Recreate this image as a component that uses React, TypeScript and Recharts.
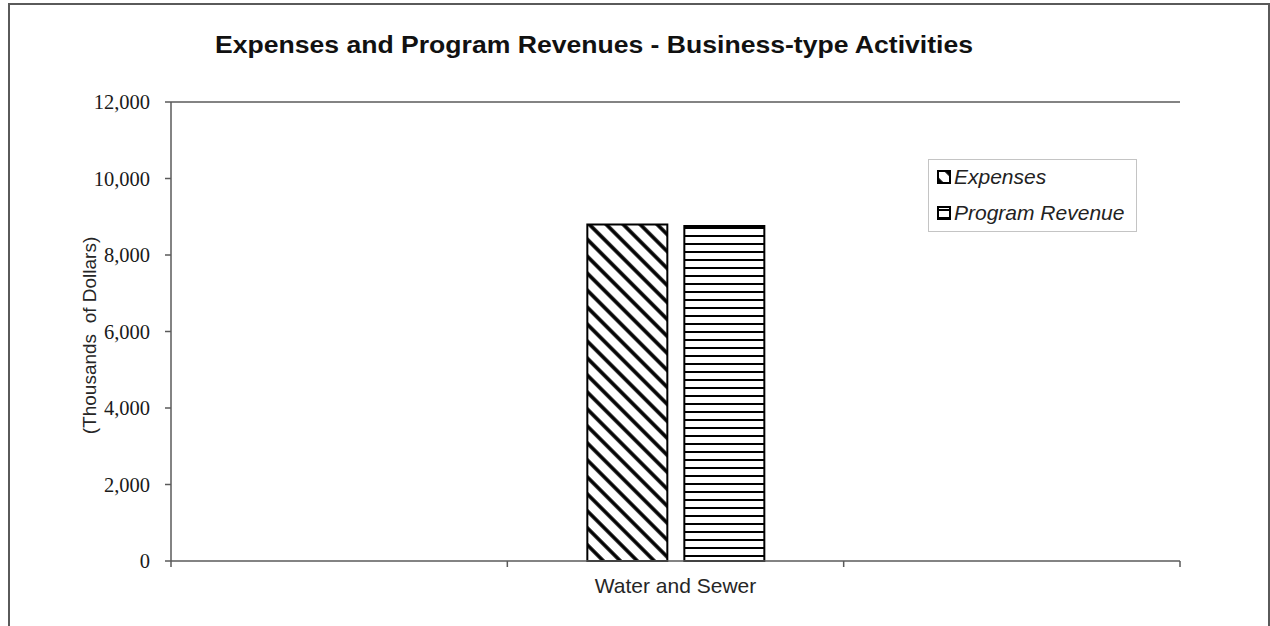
import { BarChart, Bar, XAxis, YAxis, ReferenceLine } from "recharts";

const categories = ["", "Water and Sewer", ""];
const expenses = [null, 8800, null];
const programRevenue = [null, 8760, null];
const yTicks = [0, 2000, 4000, 6000, 8000, 10000, 12000];

const AXIS = "#5a5a5a";
const INK = "#1a1a1a";

const data = categories.map((name, i) => ({
  name,
  expenses: expenses[i],
  revenue: programRevenue[i],
}));

function Patterns() {
  return (
    <svg width={0} height={0} style={{ position: "absolute" }}>
      <defs>
        <pattern
          id="hatch-diag"
          patternUnits="userSpaceOnUse"
          width={12}
          height={12}
          patternTransform="rotate(45)"
        >
          <rect width={12} height={12} fill="#fff" />
          <line x1={0} y1={6} x2={12} y2={6} stroke="#000" strokeWidth={3.6} />
        </pattern>
        <pattern id="hatch-horiz" patternUnits="userSpaceOnUse" width={8} height={8}>
          <rect width={8} height={8} fill="#fff" />
          <line x1={0} y1={4} x2={8} y2={4} stroke="#000" strokeWidth={2} />
        </pattern>
      </defs>
    </svg>
  );
}

function CategoryTick(props: any) {
  const { x, y, payload, index } = props;
  const half = payload?.offset ?? 0;
  const axisY = y - 8;
  return (
    <g>
      <line x1={x - half} y1={axisY} x2={x - half} y2={axisY + 6} stroke={AXIS} strokeWidth={1.5} />
      {index === categories.length - 1 && (
        <line x1={x + half} y1={axisY} x2={x + half} y2={axisY + 6} stroke={AXIS} strokeWidth={1.5} />
      )}
      <text
        x={x}
        y={y + 24}
        textAnchor="middle"
        fontFamily="'Liberation Sans', Arial, sans-serif"
        fontSize={21}
        fill="#262626"
      >
        {payload.value}
      </text>
    </g>
  );
}

function LegendBox() {
  const items = [
    { label: "Expenses", fill: "url(#hatch-diag)" },
    { label: "Program Revenue", fill: "url(#hatch-horiz)" },
  ];
  return (
    <div
      style={{
        position: "absolute",
        left: 928,
        top: 159,
        width: 209,
        height: 73,
        boxSizing: "border-box",
        border: "1px solid #c4c4c4",
        background: "#fff",
      }}
    >
      {items.map((it, i) => (
        <div key={it.label} style={{ position: "absolute", left: 8, top: 5 + i * 36, height: 24, display: "flex", alignItems: "center" }}>
          <svg width={14} height={14} style={{ marginRight: 3 }}>
            <rect x={1} y={1} width={12} height={12} fill={it.fill} stroke="#000" strokeWidth={2} />
          </svg>
          <span
            style={{
              fontFamily: "'Liberation Sans', Arial, sans-serif",
              fontStyle: "italic",
              fontSize: 21,
              color: "#222",
            }}
          >
            {it.label}
          </span>
        </div>
      ))}
    </div>
  );
}

export default function App() {
  return (
    <div style={{ position: "absolute", left: 0, top: 0, width: 1270, height: 626, overflow: "hidden", background: "#fff" }}>
      <Patterns />
      <div
        style={{
          position: "absolute",
          left: 8,
          top: 3,
          width: 1262,
          height: 700,
          boxSizing: "border-box",
          border: `2px solid ${AXIS}`,
        }}
      />
      <svg width={1270} height={80} style={{ position: "absolute", left: 0, top: 0 }}>
        <text
          x={215}
          y={53}
          textLength={758}
          lengthAdjust="spacingAndGlyphs"
          fontFamily="'Liberation Sans', Arial, sans-serif"
          fontWeight="bold"
          fontSize={23}
          fill="#111"
        >
          Expenses and Program Revenues - Business-type Activities
        </text>
      </svg>
      <div style={{ position: "absolute", left: 0, top: 0 }}>
        <BarChart
          width={1270}
          height={626}
          data={data}
          margin={{ top: 102, right: 90, left: 71, bottom: 35 }}
          barSize={80}
          barGap={17}
        >
          <XAxis
            dataKey="name"
            height={30}
            interval={0}
            tickLine={false}
            tickSize={6}
            tickMargin={2}
            axisLine={{ stroke: AXIS, strokeWidth: 1.5 }}
            tick={<CategoryTick />}
          />
          <YAxis
            width={100}
            domain={[0, 12000]}
            ticks={yTicks}
            tickSize={6}
            tickMargin={15}
            axisLine={{ stroke: AXIS, strokeWidth: 1.5 }}
            tickLine={{ stroke: AXIS, strokeWidth: 1.5 }}
            tick={{ fill: INK, fontSize: 20.5, fontFamily: "'Liberation Serif', 'Times New Roman', serif" }}
            tickFormatter={(v: number) => v.toLocaleString("en-US")}
            label={{
              content: ({ viewBox }: any) => {
                const cx = viewBox.x + 18;
                const cy = viewBox.y + viewBox.height / 2 + 4;
                return (
                  <text
                    x={cx}
                    y={cy}
                    transform={`rotate(-90 ${cx} ${cy})`}
                    textAnchor="middle"
                    dominantBaseline="central"
                    fontFamily="'Liberation Sans', Arial, sans-serif"
                    fontSize={19}
                    fill="#262626"
                    style={{ whiteSpace: "pre" }}
                  >
                    {"(Thousands  of Dollars)"}
                  </text>
                );
              },
            }}
          />
          <YAxis
            yAxisId="frame"
            orientation="right"
            width={0}
            tick={false}
            tickLine={false}
            axisLine={{ stroke: AXIS, strokeWidth: 1.5 }}
          />
          <ReferenceLine y={12000} stroke={AXIS} strokeWidth={1.5} />
          <Bar dataKey="expenses" name="Expenses" fill="url(#hatch-diag)" stroke="#000" strokeWidth={2} isAnimationActive={false} />
          <Bar dataKey="revenue" name="Program Revenue" fill="url(#hatch-horiz)" stroke="#000" strokeWidth={2} isAnimationActive={false} />
        </BarChart>
      </div>
      <LegendBox />
    </div>
  );
}
